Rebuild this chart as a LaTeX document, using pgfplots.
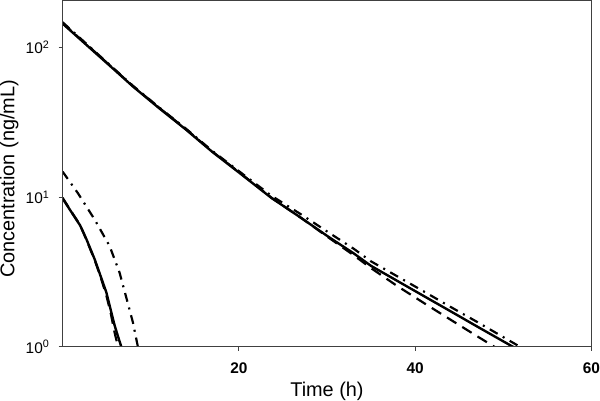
\documentclass[border=0pt]{standalone}
\usepackage{fontspec}
\setmainfont{Liberation Sans}
\usepackage{pgfplots}
\pgfplotsset{compat=1.18}

\begin{document}
\begin{tikzpicture}
\begin{axis}[
    scale only axis,
    width=530bp, height=347bp,
    xmin=0, xmax=60,
    ymode=log, ymin=1, ymax=205,
    xtick={20,40,60}, xticklabels={20,40,60},
    ytick={1,10,100}, yticklabels={10\textsuperscript{0},10\textsuperscript{1},10\textsuperscript{2}},
    yminorticks=false,
    tick align=outside, xtick pos=bottom, ytick pos=left,
    major tick length=4bp,
    axis line style={black!75, line width=1.1pt},
    every tick/.style={black!75, line width=0.9pt},
    xticklabel style={font=\fontsize{15.5}{18}\selectfont\bfseries, anchor=base, yshift=-23bp, inner sep=0pt},
    yticklabel style={font=\fontsize{15.5}{18}\selectfont, anchor=east, inner sep=0pt, xshift=-9bp},
    xlabel={Time (h)},
    ylabel={Concentration (ng/mL)},
    xlabel style={font=\fontsize{20}{24}\selectfont, at={(axis description cs:0.5,0)}, anchor=base, yshift=-50bp, inner sep=0pt},
    ylabel style={font=\fontsize{20}{24}\selectfont, inner sep=0pt, at={(ticklabel cs:0.485)}},
    ylabel shift=7bp,
    clip mode=individual,
]
% upper curves
\addplot[black, line width=2.4pt] coordinates {
 (0,144) (2,113) (4,88.7) (6,69.7) (8,54.6) (11,39.0) (14,28.2) (17,20.0)
 (20,14.6) (23.7,9.86) (27,7.3) (30.3,5.36) (33,4.22) (35,3.47) (38,2.75)
 (41,2.18) (44,1.73) (47,1.37) (51.1,1.0) (52,0.93)};
\addplot[black, line width=2.2pt, dash pattern=on 11bp off 7bp] coordinates {
 (0,145) (2,114) (4,89.5) (6,70) (8,55) (11,39.3) (14,28.4) (17,20.1)
 (20,14.7) (23.7,9.9) (27,7.3) (30.3,5.3) (33,4.1) (35,3.35) (38,2.54)
 (41,1.96) (44,1.52) (47,1.18) (49.0,1.0) (50,0.92)};
\addplot[black, line width=2.2pt, dash pattern=on 9bp off 6bp on 2bp off 6bp] coordinates {
 (0,147) (2,115) (4,90) (6,70.5) (8,55.2) (11,39.5) (14,28.6) (17,20.3)
 (20,14.9) (23.7,10.2) (27,7.7) (30.3,5.74) (33,4.53) (35,3.72) (38,2.95)
 (41,2.34) (44,1.85) (47,1.47) (51.9,1.0) (53,0.93)};
% lower curves
\addplot[black, line width=2.4pt] coordinates {
 (0,9.8) (1,7.95) (2,6.46) (2.7,5.25) (3.64,3.85) (4.3,2.99) (4.97,2.31)
 (5.45,1.78) (5.91,1.39) (6.3,1.17) (6.67,1.0) (6.9,0.9)};
\addplot[black, line width=2.2pt, dash pattern=on 11bp off 7bp] coordinates {
 (0,9.9) (1,8.0) (2,6.5) (2.7,5.2) (3.64,3.8) (4.3,2.95) (4.97,2.2)
 (5.45,1.7) (5.9,1.25) (6.3,1.0) (6.5,0.9)};
\addplot[black, line width=2.2pt, dash pattern=on 9bp off 6bp on 2bp off 6bp] coordinates {
 (0,14.8) (1.75,10.6) (3.64,7.08) (5.34,4.71) (6.47,3.13) (7.2,2.17)
 (7.98,1.46) (8.55,1.0) (8.8,0.9)};
% frame
\draw[black!75, line width=1.1pt] (rel axis cs:0,0) rectangle (rel axis cs:1,1);
\end{axis}
\end{tikzpicture}
\end{document}
